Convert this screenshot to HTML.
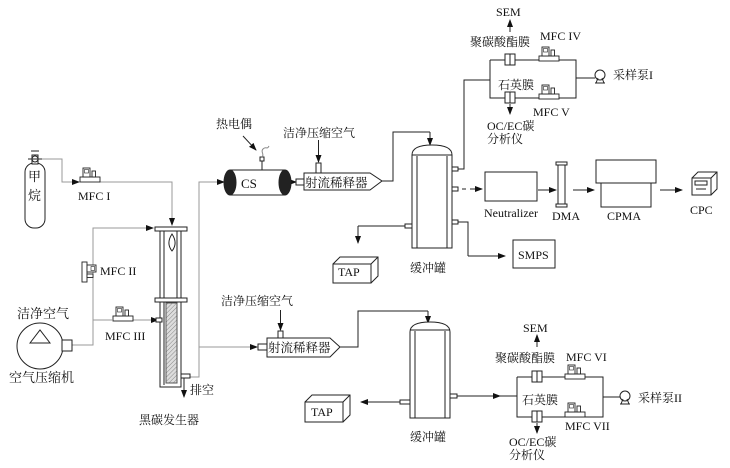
<!DOCTYPE html>
<html><head><meta charset="utf-8"><style>
html,body{margin:0;padding:0;background:#fff;}
svg{display:block;}
text{font-family:"Liberation Serif","Noto Serif CJK SC",serif;font-size:12px;fill:#111;}
</style></head><body>
<svg width="730" height="468" viewBox="0 0 730 468" xmlns="http://www.w3.org/2000/svg">
<defs>
<marker id="a" markerWidth="8" markerHeight="6" refX="7" refY="3" orient="auto" markerUnits="userSpaceOnUse"><path d="M0,0 L8,3 L0,6 z" fill="#111"/></marker>
<pattern id="h" width="3" height="3" patternUnits="userSpaceOnUse" patternTransform="rotate(45)"><rect width="3" height="3" fill="#ddd"/><line x1="0" y1="0" x2="0" y2="3" stroke="#888" stroke-width="1"/></pattern>
<g id="mfc"><rect x="0" y="9" width="20" height="5" fill="#fff" stroke="#222" stroke-width="0.9"/><rect x="3" y="0" width="7" height="9" fill="#fff" stroke="#222" stroke-width="0.9"/><rect x="4.5" y="1.5" width="4" height="3.5" fill="none" stroke="#222" stroke-width="0.6"/><rect x="12" y="3" width="3.5" height="6" fill="#fff" stroke="#222" stroke-width="0.9"/></g>
<g id="flt"><rect x="0" y="0" width="10" height="11" fill="#fff" stroke="#222" stroke-width="1"/><line x1="5" y1="0" x2="5" y2="11" stroke="#222" stroke-width="1"/></g>
<g id="pump"><circle cx="0" cy="-2" r="5" fill="#fff" stroke="#222"/><path d="M-4,6 L-2,1 M4,6 L2,1 M-5,6 L5,6" stroke="#222" fill="none"/></g>
</defs>
<g fill="none" stroke="#222" stroke-width="1">
<rect x="25" y="163" width="20" height="65" rx="9" fill="#fff"/>
<rect x="32" y="155" width="6" height="9" fill="#fff"/>
<circle cx="35" cy="159" r="3" fill="#fff"/>
<line x1="28" y1="159" x2="42" y2="159"/>
<line x1="31" y1="151" x2="39" y2="151"/>
<g stroke="#999">
<polyline points="42,159 62,159 62,182 79,182"/>
<polyline points="99,182 172,182 172,224"/>
<polyline points="63,345 93,345 93,228 153,228"/>
<polyline points="93,320 112,320"/>
<polyline points="133,320 156,320"/>
<polyline points="190,377 199,377 199,182 222,182"/>
<polyline points="199,347 256,347"/>
<polyline points="290,182 296,182"/>
</g>
<path d="M93,228 L153,228" stroke="#999" marker-end="url(#a)"/>
<path d="M62,182 L79,182" stroke="#999" marker-end="url(#a)"/>
<path d="M172,182 L172,225" stroke="#999" marker-end="url(#a)"/>
<path d="M133,320 L158,320" stroke="#999" marker-end="url(#a)"/>
<path d="M205,182 L224,182" stroke="#999" marker-end="url(#a)"/>
<path d="M230,347 L257,347" stroke="#999" marker-end="url(#a)"/>
<path d="M284,182 L296,182" stroke="#999" marker-end="url(#a)"/>
<circle cx="40" cy="346" r="23" fill="#fff"/>
<path d="M30,343 L40,330 L50,343 z"/>
<rect x="62" y="340" width="10" height="11" fill="#fff"/>
<rect x="160" y="229" width="21" height="158" fill="#fff"/>
<line x1="164" y1="231" x2="164" y2="385"/><line x1="177" y1="231" x2="177" y2="300"/>
<rect x="166" y="303" width="11" height="80" fill="url(#h)" stroke="#555"/>
<rect x="155" y="227" width="32" height="4" fill="#fff"/>
<rect x="155" y="298" width="32" height="4" fill="#fff"/>
<path d="M172,234 C168,240 168,246 172,251 C176,246 176,240 172,234 z"/>
<rect x="156" y="318" width="6" height="4" fill="#fff"/>
<rect x="181" y="374" width="9" height="4" fill="#fff"/>
<line x1="184" y1="378" x2="184" y2="381"/>
<path d="M184,381 L184,397" marker-end="url(#a)"/>
<rect x="230" y="170" width="55" height="25" fill="#fff"/>
<ellipse cx="230" cy="182.5" rx="6" ry="12.5" fill="#222"/>
<ellipse cx="285" cy="182.5" rx="6" ry="12.5" fill="#222"/>
<line x1="262" y1="158" x2="262" y2="170"/><rect x="260" y="157" width="4" height="4" fill="#fff"/>
<path d="M262,157 c3,-3 -2,-5 1,-8 c3,-3 4,1 6,-3" stroke="#888"/>
<path d="M243,136 L256,150" marker-end="url(#a)"/>
<rect x="296" y="179" width="8" height="6" fill="#fff"/>
<path d="M304,173 L370,173 L382,181 L370,190 L304,190 z" fill="#fff"/>
<rect x="316" y="163" width="5" height="10" fill="#fff"/>
<path d="M318.5,140 L318.5,162" marker-end="url(#a)"/>
<polyline points="382,181 393,181 393,132 430,132"/>
<path d="M430,132 L430,145" marker-end="url(#a)"/>
<path d="M412,248 L412,155 Q412,145 432,145 Q452,145 452,155 L452,248 z" fill="#fff"/>
<line x1="412" y1="155" x2="452" y2="155"/>
<line x1="417" y1="156" x2="417" y2="248"/><line x1="447" y1="156" x2="447" y2="248"/>
<g fill="#fff"><rect x="452" y="167" width="6" height="4"/><rect x="452" y="187" width="6" height="4"/><rect x="452" y="220" width="6" height="4"/><rect x="405" y="224" width="7" height="4"/></g>
<polyline points="458,169 464,169 464,80 490,80"/>
<path d="M462,189 L466,189" /><path d="M470,189 L482,189" marker-end="url(#a)"/>
<polyline points="458,222 468,222 468,256"/>
<path d="M468,256 L505,256" marker-end="url(#a)"/>
<polyline points="405,226 358,226"/>
<path d="M358,226 L358,243" marker-end="url(#a)"/>
<path d="M333,264 L340,257 L378,257 L378,276 L371,283" fill="#fff"/>
<rect x="333" y="264" width="38" height="19" fill="#fff"/>
<line x1="371" y1="264" x2="378" y2="257"/>
<rect x="513" y="240" width="42" height="28" fill="#fff"/>
<rect x="485" y="172" width="52" height="29" fill="#fff"/>
<path d="M538,190 L556,190" marker-end="url(#a)"/>
<rect x="558" y="163" width="7" height="43" fill="#fff"/>
<rect x="556" y="162" width="11" height="3" fill="#fff"/><rect x="556" y="204" width="11" height="3" fill="#fff"/>
<path d="M573,190 L594,190" marker-end="url(#a)"/>
<rect x="596" y="160" width="60" height="23" fill="#fff"/>
<rect x="601" y="183" width="50" height="24" fill="#fff"/>
<path d="M660,190 L682,190" marker-end="url(#a)"/>
<path d="M692,178 L698,172 L717,172 L717,189 L711,195" fill="#fff"/>
<rect x="692" y="178" width="19" height="17" fill="#fff"/>
<line x1="711" y1="178" x2="717" y2="172"/>
<rect x="695" y="181" width="12" height="4"/><line x1="696" y1="189" x2="706" y2="189"/>
<polyline points="490,60 490,98 576,98 576,60 490,60"/>
<line x1="576" y1="78" x2="595" y2="78"/>
<path d="M510,32 L510,20" marker-end="url(#a)"/>
<path d="M510,104 L510,114" marker-end="url(#a)"/>
</g>
<use href="#flt" x="505" y="54"/>
<use href="#flt" x="505" y="92"/>
<use href="#mfc" x="539" y="47"/>
<use href="#mfc" x="539" y="85"/>
<use href="#pump" x="600" y="77"/>
<use href="#mfc" x="80" y="168"/>
<use href="#mfc" x="113" y="307"/>
<g transform="translate(96,262) rotate(90)"><use href="#mfc" x="0" y="0"/></g>
<g fill="none" stroke="#222" stroke-width="1">
<rect x="258" y="344" width="9" height="6" fill="#fff"/>
<path d="M267,338 L330,338 L340,347 L330,357 L267,357 z" fill="#fff"/>
<rect x="278" y="331" width="5" height="7" fill="#fff"/>
<path d="M280.5,310 L280.5,330" marker-end="url(#a)"/>
<polyline points="340,347 358,347 358,311 428,311"/>
<path d="M428,311 L428,323" marker-end="url(#a)"/>
<path d="M410,418 L410,332 Q410,322 430,322 Q450,322 450,332 L450,418 z" fill="#fff"/>
<line x1="410" y1="330" x2="450" y2="330"/>
<line x1="415" y1="331" x2="415" y2="418"/><line x1="445" y1="331" x2="445" y2="418"/>
<g fill="#fff"><rect x="450" y="394" width="7" height="4"/><rect x="400" y="400" width="10" height="4"/></g>
<path d="M400,402 L361,402" marker-end="url(#a)"/>
<line x1="457" y1="396" x2="517" y2="396"/>
<path d="M480,396 L500,396" marker-end="url(#a)"/>
<path d="M305,402 L312,395 L350,395 L350,415 L343,422" fill="#fff"/>
<rect x="305" y="402" width="38" height="20" fill="#fff"/>
<line x1="343" y1="402" x2="350" y2="395"/>
<polyline points="517,377 517,417 603,417 603,377 517,377"/>
<line x1="603" y1="397" x2="620" y2="397"/>
<path d="M537,347 L537,335" marker-end="url(#a)"/>
<path d="M537,423 L537,433" marker-end="url(#a)"/>
</g>
<use href="#flt" x="532" y="371"/>
<use href="#flt" x="532" y="411"/>
<use href="#mfc" x="565" y="365"/>
<use href="#mfc" x="565" y="403"/>
<use href="#pump" x="625" y="398"/>
<text x="28" y="181" style="font-size:13px">甲</text>
<text x="28" y="200" style="font-size:13px">烷</text>
<text x="78" y="200">MFC I</text>
<text x="100" y="275">MFC II</text>
<text x="105" y="340">MFC III</text>
<text x="17" y="318" style="font-size:13px">洁净空气</text>
<text x="9" y="382" style="font-size:13px">空气压缩机</text>
<text x="190" y="394">排空</text>
<text x="139" y="424">黑碳发生器</text>
<text x="216" y="128">热电偶</text>
<text x="241" y="188" style="font-size:13px">CS</text>
<text x="283" y="137">洁净压缩空气</text>
<text x="305" y="187" style="font-size:12.5px">射流稀释器</text>
<text x="410" y="272">缓冲罐</text>
<text x="338" y="276">TAP</text>
<text x="518" y="259">SMPS</text>
<text x="484" y="217">Neutralizer</text>
<text x="552" y="220">DMA</text>
<text x="607" y="220">CPMA</text>
<text x="690" y="214">CPC</text>
<text x="496" y="16">SEM</text>
<text x="470" y="46">聚碳酸酯膜</text>
<text x="540" y="40">MFC IV</text>
<text x="613" y="79">采样泵I</text>
<text x="498" y="89">石英膜</text>
<text x="533" y="116">MFC V</text>
<text x="487" y="130">OC/EC碳</text>
<text x="487" y="143">分析仪</text>
<text x="221" y="305">洁净压缩空气</text>
<text x="268" y="352" style="font-size:12.5px">射流稀释器</text>
<text x="410" y="441">缓冲罐</text>
<text x="311" y="416">TAP</text>
<text x="523" y="332">SEM</text>
<text x="495" y="362">聚碳酸酯膜</text>
<text x="566" y="361">MFC VI</text>
<text x="638" y="402">采样泵II</text>
<text x="522" y="404">石英膜</text>
<text x="565" y="430">MFC VII</text>
<text x="509" y="446">OC/EC碳</text>
<text x="509" y="459">分析仪</text>
</svg>
</body></html>
